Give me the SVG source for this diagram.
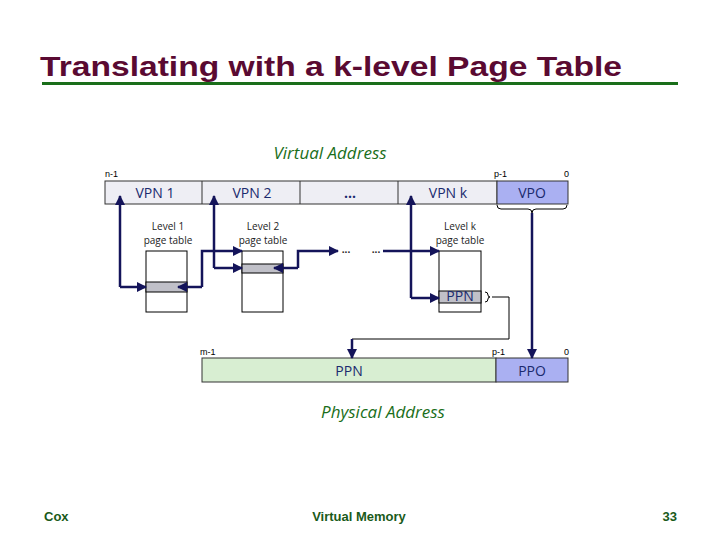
<svg xmlns="http://www.w3.org/2000/svg" width="720" height="540" viewBox="0 0 720 540">
<style>
.title{font-family:"Liberation Sans",Arial,sans-serif;font-weight:bold;font-size:28px;fill:#5a0a32}
.green{font-family:"Open Sans","Liberation Sans",sans-serif;font-style:italic;font-size:17px;fill:#1a6e1a}
.foot{font-family:"Liberation Sans",Arial,sans-serif;font-weight:bold;font-size:13px;fill:#1a5a1a}
.fld{font-family:"Open Sans","Liberation Sans",sans-serif;font-size:14px;fill:#1a2a6e}
.bit{font-family:"Liberation Sans",sans-serif;font-size:9px;fill:#000}
.lbl{font-family:"Open Sans","Liberation Sans",sans-serif;font-size:10px;fill:#222}
.bar{stroke:#333;stroke-width:1}
.pt{fill:#fff;stroke:#000;stroke-width:1}
.row{fill:#c0c0c8;stroke:#000;stroke-width:1}
.wire{fill:none;stroke:#14145a;stroke-width:2.5}
.thin{fill:none;stroke:#000;stroke-width:1}
</style>
<defs>
<marker id="ah" viewBox="0 0 10 10" refX="9" refY="5" markerWidth="4" markerHeight="4" orient="auto" markerUnits="strokeWidth">
<path d="M0,0 L10,5 L0,10 z" fill="#14145a"/>
</marker>
</defs>
<g id="title">
<text class="title" x="40" y="76" textLength="582" lengthAdjust="spacingAndGlyphs">Translating with a k-level Page Table</text>
<rect x="42" y="82" width="636" height="3" fill="#1a6e1a"/>
</g>
<g id="virtual-address">
<text class="green" x="330" y="159" text-anchor="middle">Virtual Address</text>
<rect class="bar" x="105" y="181" width="392" height="23" fill="#eeeef4"/>
<rect class="bar" x="497" y="181" width="71" height="23" fill="#aab0f2"/>
<line class="bar" x1="202" y1="181" x2="202" y2="204"/>
<line class="bar" x1="300" y1="181" x2="300" y2="204"/>
<line class="bar" x1="398" y1="181" x2="398" y2="204"/>
<text class="fld" x="155" y="198" text-anchor="middle">VPN 1</text>
<text class="fld" x="252" y="198" text-anchor="middle">VPN 2</text>
<text class="fld" x="350" y="198" text-anchor="middle" font-weight="bold">...</text>
<text class="fld" x="448" y="198" text-anchor="middle">VPN k</text>
<text class="fld" x="532" y="198" text-anchor="middle">VPO</text>
<text class="bit" x="105" y="177">n-1</text>
<text class="bit" x="494" y="177">p-1</text>
<text class="bit" x="564" y="177">0</text>
<path class="thin" d="M497,205 Q497,209 501,209 L528,209 Q532,209 532,213 Q532,209 536,209 L563,209 Q567,209 567,205"/>
</g>
<g id="level1">
<text class="lbl" x="168" y="230" text-anchor="middle">Level 1</text>
<text class="lbl" x="168" y="244" text-anchor="middle">page table</text>
<rect class="pt" x="146" y="251" width="41" height="61"/>
<rect class="row" x="146" y="282" width="41" height="10"/>
</g>
<g id="level2">
<text class="lbl" x="263" y="230" text-anchor="middle">Level 2</text>
<text class="lbl" x="263" y="244" text-anchor="middle">page table</text>
<rect class="pt" x="242" y="251" width="41" height="61"/>
<rect class="row" x="242" y="264" width="41" height="9"/>
</g>
<g id="levelk">
<text class="lbl" x="460" y="230" text-anchor="middle">Level k</text>
<text class="lbl" x="460" y="244" text-anchor="middle">page table</text>
<rect class="pt" x="439" y="251" width="42" height="61"/>
<rect class="row" x="439" y="291" width="42" height="12"/>
<text class="fld" x="460" y="301" text-anchor="middle" font-size="11">PPN</text>
<path class="thin" d="M485,292 Q488,292 488,295 Q488,297 490,297 Q488,297 488,299 Q488,302 485,302"/>
<text class="lbl" x="346" y="253" text-anchor="middle" font-weight="bold">...</text>
<text class="lbl" x="376" y="253" text-anchor="middle" font-weight="bold">...</text>
</g>
<g id="physical-address">
<text class="bit" x="200" y="355">m-1</text>
<text class="bit" x="492" y="355">p-1</text>
<text class="bit" x="564" y="355">0</text>
<rect class="bar" x="202" y="358" width="294" height="24" fill="#d8eed2"/>
<rect class="bar" x="496" y="358" width="72" height="24" fill="#aab0f2"/>
<text class="fld" x="349" y="376" text-anchor="middle">PPN</text>
<text class="fld" x="532" y="376" text-anchor="middle">PPO</text>
<text class="green" x="383" y="418" text-anchor="middle">Physical Address</text>
</g>
<g id="connectors">
<path class="wire" d="M120,287 L120,196" marker-end="url(#ah)"/>
<path class="wire" d="M120,287 L146,287" marker-end="url(#ah)"/>
<path class="wire" d="M202,287 L178,287" marker-end="url(#ah)"/>
<path class="wire" d="M202,287 L202,251 L242,251" marker-end="url(#ah)"/>
<path class="wire" d="M214,268 L214,196" marker-end="url(#ah)"/>
<path class="wire" d="M214,268 L242,268" marker-end="url(#ah)"/>
<path class="wire" d="M298,268 L274,268" marker-end="url(#ah)"/>
<path class="wire" d="M298,268 L298,251 L338,251" marker-end="url(#ah)"/>
<path class="wire" d="M383,251 L439,251" marker-end="url(#ah)"/>
<path class="wire" d="M411,298 L411,196" marker-end="url(#ah)"/>
<path class="wire" d="M411,298 L439,298" marker-end="url(#ah)"/>
<path class="wire" d="M532,213 L532,358" marker-end="url(#ah)"/>
<path fill="none" stroke="#000" stroke-width="1" d="M492,297 L509,297 L509,339 L352,339"/>
<path class="wire" d="M352,339 L352,358" marker-end="url(#ah)"/>
</g>
<g id="footer">
<text class="foot" x="44" y="521">Cox</text>
<text class="foot" x="359" y="521" text-anchor="middle">Virtual Memory</text>
<text class="foot" x="677" y="521" text-anchor="end">33</text>
</g>
</svg>
